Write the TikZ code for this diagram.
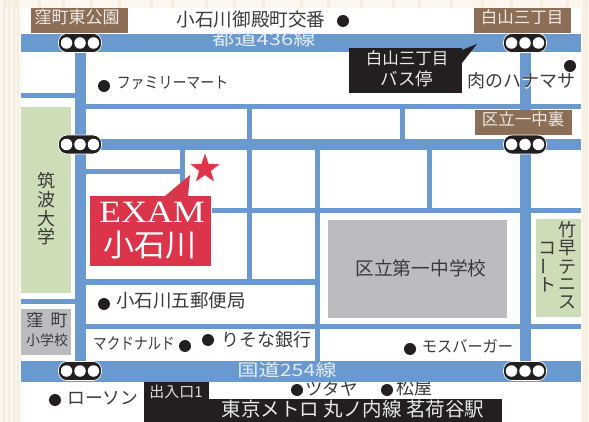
\documentclass[tikz,border=0pt]{standalone}
\usepackage{fontspec}
\usetikzlibrary{shapes.geometric}
\setmainfont{Noto Sans CJK JP}
\newfontfamily\exfont{Liberation Serif}
\newfontfamily\halofont[FakeBold=3]{Noto Sans CJK JP}
\definecolor{road}{HTML}{6A99CF}
\definecolor{paper}{HTML}{FBF6EE}
\definecolor{stripe}{HTML}{F5EEDF}
\definecolor{brownbox}{HTML}{8C6E56}
\definecolor{greenbox}{HTML}{CCDDB8}
\definecolor{grayb}{HTML}{BBBCC0}
\definecolor{redbox}{HTML}{DC354B}
\definecolor{ink}{HTML}{3A3A3A}
\definecolor{blk}{HTML}{231F20}
\newcommand{\fs}[1]{\fontsize{#1}{#1}\selectfont}
\tikzset{
  roadline/.style={fill=road},
  lab/.style={inner sep=0,text=ink,font=\fs{15}},
  rev/.style={inner sep=0,text=white,font=\fs{15}},
  spot/.style={circle,fill=blk,minimum size=12pt,inner sep=0},
  signalpill/.style={rounded corners=8.5pt,fill=blk,draw=white,line width=.7pt,minimum width=43pt,minimum height=19pt,inner sep=0},
  lamp/.style={circle,fill=white,minimum size=11.5pt,inner sep=0},
}
\newcommand{\signal}[3]{\node[signalpill] (#1) at (#2,#3) {};
  \node[lamp] (#1a) at (#2-13.5,#3) {};\node[lamp] (#1b) at (#2,#3) {};\node[lamp] (#1c) at (#2+13.5,#3) {};}
\newcommand{\rrect}[4]{\path[roadline] (#1,#2) rectangle (#3,#4);}
\begin{document}
\begin{tikzpicture}[x=1pt,y=-1pt]
\useasboundingbox (0,0) rectangle (589,422);
\fill[paper] (0,0) rectangle (589,422);
\foreach \x in {4,9,15,38,62,90,118,150,171,205,233,262,300,327,360,392,418,450,481,510,540,566,585}
  \fill[stripe] (\x,0) rectangle ++(2.5,8);
\foreach \x in {3,8,13,17} \fill[stripe] (\x,0) rectangle ++(1.5,422);
\foreach \x in {583,586} \fill[stripe] (\x,0) rectangle ++(1.5,422);
\fill[white] (21,8) rectangle (581,422);
% labels partly covered by the road
\node[spot] (dTsutaya) at (297,390) {};
\node[lab,anchor=west,font=\fs{17.5}] (tTsutaya) at (305,388.5) {ツタヤ};
\node[spot] (dMatsuya) at (387,390) {};
\node[lab,anchor=west,font=\fs{18}] (tMatsuya) at (396,388) {松屋};
% roads
\rrect{21}{93}{75}{98}
\rrect{21}{299}{75}{304}
\rrect{86}{104}{581}{109.5}
\rrect{247}{109}{252}{280}
\rrect{399.5}{109}{404.5}{139}
\rrect{86}{169}{182}{174}
\rrect{180}{150}{185}{200}
\rrect{212}{208.5}{581}{213}
\rrect{315}{150}{320}{361}
\rrect{427}{150}{432}{209}
\rrect{86}{279}{315}{284.5}
\rrect{86}{324}{581}{329}
\rrect{86}{139}{581}{150}
\rrect{75}{52}{86}{361}
\rrect{520}{52}{530.5}{361}
\rrect{21}{34}{581}{52}
\rrect{21}{361}{581}{382}
% areas
\fill[greenbox] (21,107) rectangle (71,293);
\fill[grayb] (21,309) rectangle (71,355);
\fill[greenbox] (536,219) rectangle (581,317);
\fill[grayb] (328,220) rectangle (507,318);
\fill[brownbox] (31,8) rectangle (128,33);
\fill[brownbox] (474,8) rectangle (571,33);
\fill[brownbox] (475,110) rectangle (572,135);
% signals
\signal{sa}{80}{43}\signal{sb}{80}{144.5}\signal{sc}{80}{371}
\signal{sd}{525}{43}\signal{se}{525}{144.5}\signal{sf}{525}{371}
% road names and brown labels
\node[rev,font=\fs{17},text=white!80!road,xscale=1.3] (r1) at (264,39.5) {都道436線};
\node[rev,font=\fs{17},text=white!80!road,xscale=1.25] (r2) at (287,370) {国道254線};
\node[rev,font=\fs{17},text=white!85!brownbox] (b1) at (77,17) {窪町東公園};
\node[rev,font=\fs{16.5},text=white!85!brownbox] (b2) at (522,17) {白山三丁目};
\node[rev,font=\fs{16.5},text=white!85!brownbox] (b3) at (523,119) {区立一中裏};
% bus stop callout
\fill[blk] (349,48) rectangle (462,93);
\fill[blk] (462,50) -- (477,44) -- (462,63) -- cycle;
\node[rev,font=\fs{16.5},text=white!90!blk] (bus1) at (407,58) {白山三丁目};
\node[rev,font=\fs{17.5},text=white!90!blk] (bus2) at (407,79) {バス停};
% EXAM callout
\fill[redbox] (90,196) rectangle (211,266);
\fill[redbox] (165,196) -- (190,175) -- (188,196) -- cycle;
\node[star,star points=5,star point ratio=2.5,fill=redbox,draw=white,line width=.5pt,minimum size=33pt,inner sep=0] (star) at (205,169) {};
\node[inner sep=0,text=white,font=\exfont\fs{31},xscale=1.16] (ex) at (152,212) {EXAM};
\node[inner sep=0,text=white,font=\fs{31}] (ko) at (150,245) {小石川};
% points of interest
\node[lab,font=\fs{18.6}] (t1) at (251,19) {小石川御殿町交番};
\node[spot] (d1) at (343,21) {};
\node[spot] (d2) at (104,86) {};
\node[lab,font=\fs{16},xscale=.87] (t2) at (172.5,83) {ファミリーマート};
\node[spot] (d3) at (570,66) {};
\node[lab,anchor=west,text=white,font=\halofont\fs{18}] (t3h) at (467,81) {肉のハナマサ};
\node[lab,anchor=west,font=\fs{18}] (t3) at (467,81) {肉のハナマサ};
\node[spot] (d4) at (104,304) {};
\node[lab,anchor=west,font=\fs{18.5}] (t4) at (116,301) {小石川五郵便局};
\node[lab,font=\fs{16},xscale=.85] (t5) at (134,343) {マクドナルド};
\node[spot] (d5) at (185,346) {};
\node[spot] (d6) at (208,340) {};
\node[lab,anchor=west,font=\fs{18}] (t6) at (221,340) {りそな銀行};
\node[spot] (d7) at (410,349) {};
\node[lab,font=\fs{16},xscale=.95] (t7) at (467.5,346) {モスバーガー};
\node[spot] (d8) at (55,400) {};
\node[lab,anchor=west,font=\fs{17.8}] (t8) at (67,398) {ローソン};
% station
\fill[blk] (144,399) rectangle (502,422);
\fill[blk] (144,382) rectangle (209,399);
\node[rev,font=\fs{15},text=white!85!blk] (st1) at (176,392) {出入口1};
\node[rev,font=\fs{19.5},text=white!90!blk] (st2) at (353,409.5) {東京メトロ 丸ノ内線 茗荷谷駅};
% area names
\node[lab,font=\fs{18},align=center] (u1) at (46,181) {筑};
\node[lab,font=\fs{18},align=center] (u2) at (46,200) {波};
\node[lab,font=\fs{18},align=center] (u3) at (46,219) {大};
\node[lab,font=\fs{18},align=center] (u4) at (46,237) {学};
\node[lab,font=\fs{17}] (k1) at (35,320) {窪};
\node[lab,font=\fs{17}] (k2) at (59,320) {町};
\node[lab,font=\fs{14}] (k3) at (47,340) {小学校};
\node[lab,font=\fs{18.7}] (sch) at (421,268) {区立第一中学校};
\foreach \ch/\yy in {竹/230,早/248,テ/267,ニ/285,ス/302}
  \node[lab,font=\fs{18}] at (567,\yy) {\ch};
\node[lab,font=\fs{18}] (c1) at (547,248) {コ};
\node[lab,font=\fs{18},rotate=90] (c2) at (547,266) {ー};
\node[lab,font=\fs{18}] (c3) at (547,285) {ト};
\end{tikzpicture}
\end{document}
